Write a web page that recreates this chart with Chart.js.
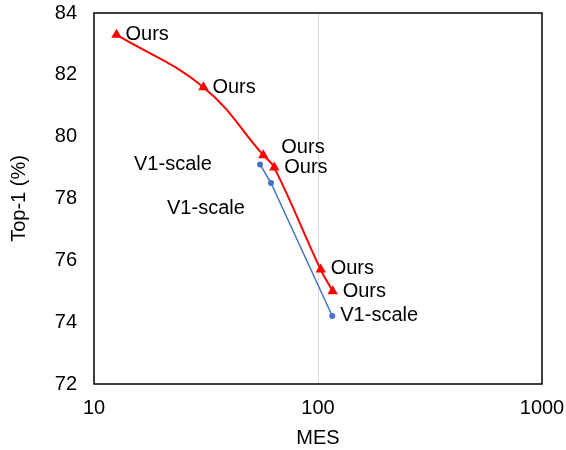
<!DOCTYPE html>
<html>
<head>
<meta charset="utf-8">
<script src="https://cdn.jsdelivr.net/npm/chart.js@4"></script>
<style>
  html, body { margin: 0; padding: 0; background: #fff; }
  #wrap { width: 566px; height: 450px; }
</style>
</head>
<body>
<div id="wrap"><canvas id="mesChart" width="566" height="450"></canvas></div>
<script>
// data
const oursMes = [12.6, 30.8, 57, 63.8, 102.8, 116.3];
const oursTop1 = [83.3, 81.6, 79.4, 79.0, 75.7, 75.0];
const oursLabels = ['Ours', 'Ours', 'Ours', 'Ours', 'Ours', 'Ours'];

const v1Mes = [55.1, 61.7, 115.8];
const v1Top1 = [79.1, 78.5, 74.2];
const v1Labels = ['V1-scale', 'V1-scale', 'V1-scale'];

const xTicks = [10, 100, 1000];
const yTicks = [72, 74, 76, 78, 80, 82, 84];

const FONT = '"Liberation Sans", Arial, sans-serif';

// where each text sits relative to its point (px)
const labelOffsets = [
  [[9, 0], [9, 0], [18, -8], [10, 0], [10, -1], [10, 0]],
  [[-126, 0], [-104, 25], [8, 0]]
];

const pointLabels = {
  id: 'pointLabels',
  afterDatasetsDraw(chart) {
    const ctx = chart.ctx;
    ctx.save();
    ctx.font = '20px ' + FONT;
    ctx.fillStyle = '#000';
    ctx.textAlign = 'left';
    ctx.textBaseline = 'middle';
    chart.data.datasets.forEach((ds, i) => {
      const meta = chart.getDatasetMeta(i);
      meta.data.forEach((pt, j) => {
        const off = labelOffsets[i][j];
        ctx.fillText(ds.labels[j], pt.x + off[0], pt.y + off[1]);
      });
    });
    ctx.restore();
  }
};

const frame = {
  id: 'frame',
  afterDraw(chart) {
    const a = chart.chartArea;
    const ctx = chart.ctx;
    ctx.save();
    ctx.strokeStyle = '#000';
    ctx.lineWidth = 1.5;
    ctx.strokeRect(a.left, a.top, a.right - a.left, a.bottom - a.top);
    ctx.restore();
  }
};

const ctx = document.getElementById('mesChart').getContext('2d');
new Chart(ctx, {
  type: 'scatter',
  data: {
    datasets: [
      {
        label: 'Ours',
        data: oursMes.map((x, i) => ({ x: x, y: oursTop1[i] })),
        labels: oursLabels,
        showLine: true,
        tension: 0.4,
        borderColor: '#ff0000',
        backgroundColor: '#ff0000',
        borderWidth: 2,
        pointStyle: 'triangle',
        pointRadius: 6,
        pointBorderWidth: 0
      },
      {
        label: 'V1-scale',
        data: v1Mes.map((x, i) => ({ x: x, y: v1Top1[i] })),
        labels: v1Labels,
        showLine: true,
        tension: 0,
        borderColor: '#4472c4',
        backgroundColor: '#4472c4',
        borderWidth: 1.5,
        pointStyle: 'circle',
        pointRadius: 3,
        pointBorderWidth: 0
      }
    ]
  },
  options: {
    responsive: false,
    animation: false,
    layout: { padding: { top: 13, right: 24, left: 0, bottom: 0 } },
    plugins: {
      legend: { display: false },
      tooltip: { enabled: false }
    },
    scales: {
      x: {
        type: 'logarithmic',
        min: 10,
        max: 1000,
        afterBuildTicks: axis => { axis.ticks = xTicks.map(v => ({ value: v })); },
        afterFit: axis => {
          axis.height = 66;
          axis.paddingLeft = 0;
          axis.paddingRight = 0;
        },
        ticks: {
          color: '#000',
          font: { family: FONT, size: 20 },
          padding: 12,
          maxRotation: 0,
          autoSkip: false,
          callback: v => String(v)
        },
        grid: {
          drawTicks: false,
          color: c => (c.tick && c.tick.value === 100) ? '#d9d9d9' : 'rgba(0,0,0,0)',
          lineWidth: 1
        },
        border: { display: false },
        title: {
          display: true,
          text: 'MES',
          color: '#000',
          font: { family: FONT, size: 20 },
          padding: { top: 4, bottom: 0 }
        }
      },
      y: {
        min: 72,
        max: 84,
        afterBuildTicks: axis => { axis.ticks = yTicks.map(v => ({ value: v })); },
        afterFit: axis => {
          axis.width = 94;
          axis.paddingTop = 0;
          axis.paddingBottom = 0;
        },
        ticks: {
          color: '#000',
          font: { family: FONT, size: 20 },
          padding: 17
        },
        grid: { display: false, drawTicks: false },
        border: { display: false },
        title: {
          display: true,
          text: 'Top-1 (%)',
          color: '#000',
          font: { family: FONT, size: 20 },
          padding: { top: 7, bottom: 0 }
        }
      }
    }
  },
  plugins: [pointLabels, frame]
});
</script>
</body>
</html>
